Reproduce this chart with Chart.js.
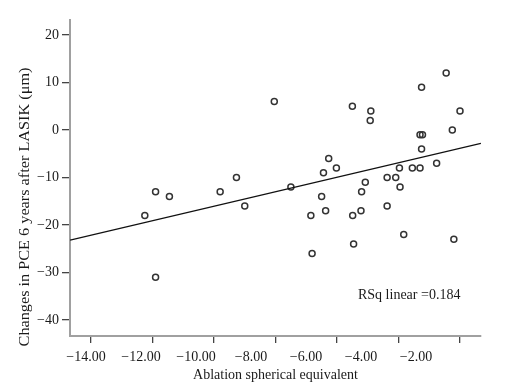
<!DOCTYPE html>
<html>
<head>
<meta charset="utf-8">
<script src="https://cdn.jsdelivr.net/npm/chart.js@4"></script>
<style>
  body { margin: 0; background: #fff; }
  canvas { display: block; }
</style>
</head>
<body>
<canvas id="chart" width="516" height="391"></canvas>
<script>
// ablation SE (D) and change in PCE (um)
const ablation = [
  -8.04, -11.9, -11.45, -12.25, -11.9, -9.8, -9.27, -9.0,
  -2.45, -3.25, -5.5, -4.9, -4.92, -2.0, -2.25, -3.3, -3.22, -3.25,
  -2.76, -3.97, -3.55, -3.3, -4.37, -4.09, -3.95, -5.08, -5.2, -5.22,
  -5.49, -4.37, -3.83, -2.2, -5.46, -6.81, -6.85, -6.37, -6.5, -6.44,
  -6.27, -6.02, -7.5
];
const pceChange = [
  6, -13, -14, -18, -31, -13, -10, -16,
  12, 9, 5, 4, 2, 4, 0, -1, -1, -4,
  -7, -8, -8, -8, -10, -10, -12, -11, -13, -17,
  -18, -16, -22, -23, -24, -26, -18, -17, -14, -9,
  -6, -8, -12
];

// fit line ends as drawn
const fitX = [-14.68, -1.32];
const fitY = [-23.2, -2.8];

const xTicks = [-14, -12, -10, -8, -6, -4, -2];
const xTickLabels = ['\u221214.00', '\u221212.00', '\u221210.00', '\u22128.00', '\u22126.00', '\u22124.00', '\u22122.00'];
const yTicks = [-40, -30, -20, -10, 0, 10, 20];
const yTickLabels = ['\u221240', '\u221230', '\u221220', '\u221210', '0', '10', '20'];

const xTitle = 'Ablation spherical equivalent';
const yTitle = 'Changes in PCE 6 years after LASIK (\u03bcm)';
const rsqText = 'RSq linear =0.184';

const serif = "'Liberation Serif', 'Times New Roman', serif";
const textColor = '#1a1a1a';

const points = ablation.map((x, i) => ({ x: x, y: pceChange[i] }));
const fitLine = fitX.map((x, i) => ({ x: x, y: fitY[i] }));

const extraText = {
    id: 'extraText',
    afterDraw(chart) {
        const ctx = chart.ctx;
        const area = chart.chartArea;
        ctx.save();
        ctx.fillStyle = textColor;
        ctx.font = '14px ' + serif;
        // R squared note
        ctx.textAlign = 'left';
        ctx.textBaseline = 'middle';
        ctx.fillText(rsqText, area.right - 123, area.bottom - 41);
        // y title, a bit below the middle and stretched along its length as in the original
        ctx.translate(area.left - 45, (area.top + area.bottom) / 2 + 29);
        ctx.rotate(-Math.PI / 2);
        ctx.scale(1.16, 1);
        ctx.textAlign = 'center';
        ctx.fillText(yTitle, 0, 0);
        ctx.restore();
    }
};

const ctx = document.getElementById('chart').getContext('2d');

new Chart(ctx, {
    type: 'scatter',
    data: {
        datasets: [{
            label: 'fit',
            type: 'line',
            data: fitLine,
            borderColor: '#111',
            borderWidth: 1.3,
            pointRadius: 0,
            fill: false,
            xAxisID: 'x',
            yAxisID: 'y'
        }, {
            label: 'cases',
            data: points,
            pointRadius: 3,
            pointBorderWidth: 1.5,
            borderColor: '#333',
            backgroundColor: 'rgba(255,255,255,0)',
            pointHoverRadius: 3,
            xAxisID: 'x',
            yAxisID: 'y'
        }]
    },
    options: {
        responsive: false,
        animation: false,
        events: [],
        layout: { padding: { left: 0, top: 20, right: 35, bottom: 0 } },
        plugins: {
            legend: { display: false },
            tooltip: { enabled: false }
        },
        scales: {
            x: {
                type: 'linear',
                position: 'bottom',
                weight: 0,
                min: -14.683,
                max: -1.317,
                afterBuildTicks: scale => { scale.ticks = xTicks.map(v => ({ value: v })); },
                afterFit: scale => { scale.height = 8; },
                ticks: { display: false },
                grid: { drawOnChartArea: false, drawTicks: true, tickLength: 7, color: '#444', lineWidth: 1.3 },
                border: { color: '#a0a0a0', width: 2 }
            },
            // tick labels in the original sit slightly off their tick marks
            x2: {
                type: 'linear',
                position: 'bottom',
                weight: 1,
                min: -14.582,
                max: 0.364,
                afterBuildTicks: scale => { scale.ticks = xTicks.map(v => ({ value: v })); },
                afterFit: scale => { scale.height = 47; },
                ticks: {
                    padding: 5,
                    maxRotation: 0,
                    autoSkip: false,
                    color: textColor,
                    font: { family: serif, size: 14 },
                    callback: v => xTickLabels[xTicks.indexOf(v)]
                },
                grid: { display: false, drawTicks: false },
                border: { display: false },
                title: {
                    display: true,
                    text: xTitle,
                    color: textColor,
                    font: { family: serif, size: 14 },
                    padding: { top: 0, bottom: 7 }
                }
            },
            y: {
                type: 'linear',
                position: 'left',
                min: -43.37,
                max: 23.16,
                afterBuildTicks: scale => { scale.ticks = yTicks.map(v => ({ value: v })); },
                afterFit: scale => { scale.width = 70; },
                ticks: {
                    padding: 3,
                    color: textColor,
                    font: { family: serif, size: 14 },
                    callback: v => yTickLabels[yTicks.indexOf(v)]
                },
                grid: { drawOnChartArea: false, drawTicks: true, tickLength: 8, color: '#444', lineWidth: 1.3 },
                border: { color: '#a0a0a0', width: 2 }
            }
        }
    },
    plugins: [extraText]
});
</script>
</body>
</html>
